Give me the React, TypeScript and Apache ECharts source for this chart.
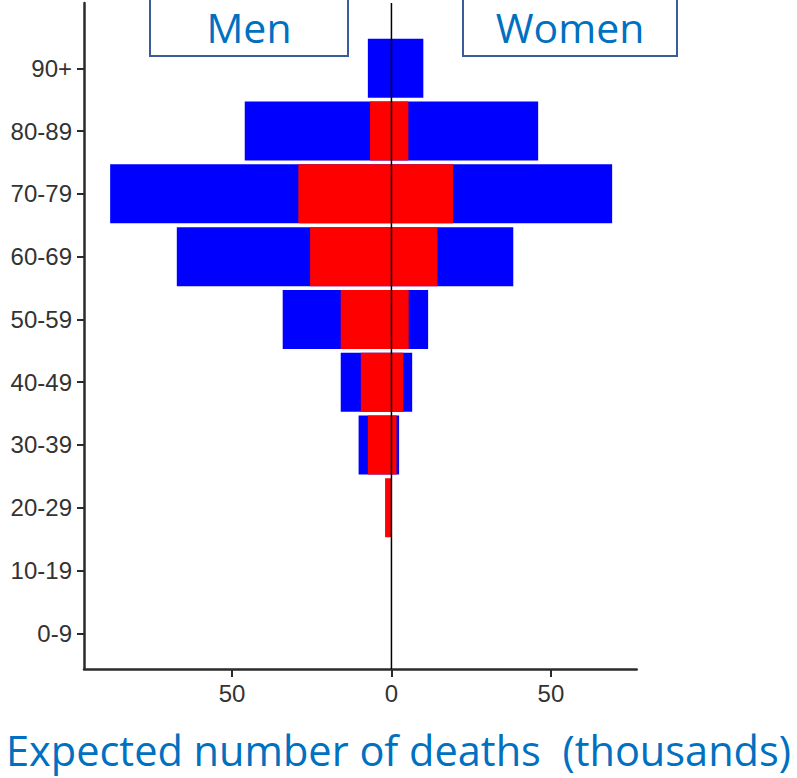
import React, { useEffect, useRef } from "react";
import * as echarts from "echarts";

const categories = ["0-9", "10-19", "20-29", "30-39", "40-49", "50-59", "60-69", "70-79", "80-89", "90+"];
// Expected deaths (thousands): blue = total bar, red = overlaid inner bar
const menBlue = [0, 0, 0, 10.3, 15.9, 34.1, 67.3, 88.2, 46.0, 7.4];
const menRed = [0, 0, 2.0, 7.4, 9.6, 15.9, 25.5, 29.2, 6.7, 0];
const womenBlue = [0, 0, 0, 2.4, 6.5, 11.5, 38.2, 69.2, 46.0, 10.0];
const womenRed = [0, 0, 0, 1.6, 3.7, 5.4, 14.4, 19.3, 5.3, 0];
const xTicks = [-50, 0, 50];
const xMin = -96.4;
const xMax = 76.9;

const leftLabel = "Men";
const rightLabel = "Women";
const xTitle = "Expected number of deaths  (thousands)";

const BLUE = "#0000FF";
const RED = "#FF0000";
const TITLE_BLUE = "#0070C0";
const BOX_BORDER = "#3B5C9A";
const AXIS = "#2b2b2b";
const LABEL = "#333333";

export default function App() {
  const ref = useRef<HTMLDivElement>(null);
  useEffect(() => {
    if (!ref.current) return;
    const chart = echarts.init(ref.current, undefined, { renderer: "svg" });
    const barCommon = {
      type: "bar" as const,
      xAxisIndex: 0,
      yAxisIndex: 0,
      barWidth: 59,
      barGap: "-100%",
    };
    chart.setOption({
      animation: false,
      backgroundColor: "#ffffff",
      grid: [
        { left: 84, right: 160.3, top: 36.9, bottom: 113.3, containLabel: false },
        { left: 84, right: 160.3, top: 3, bottom: 109, containLabel: false },
      ],
      xAxis: [
        { type: "value", gridIndex: 0, min: xMin, max: xMax, show: false },
        {
          type: "value",
          gridIndex: 1,
          min: xMin,
          max: xMax,
          axisLine: { show: true, onZero: false, lineStyle: { color: AXIS, width: 2.5 } },
          axisTick: { show: true, customValues: xTicks, length: 8, lineStyle: { color: AXIS, width: 2 } },
          axisLabel: {
            show: true,
            customValues: xTicks,
            formatter: (v: number) => String(Math.abs(v)),
            fontFamily: "Liberation Sans",
            fontSize: 24,
            color: LABEL,
            margin: 12,
          },
          splitLine: { show: false },
        },
      ],
      yAxis: [
        {
          type: "category",
          gridIndex: 0,
          data: categories,
          axisLine: { show: false, onZero: false },
          axisTick: { show: true, alignWithLabel: true, length: 7, lineStyle: { color: AXIS, width: 2 } },
          axisLabel: {
            fontFamily: "Liberation Sans",
            fontSize: 24,
            color: LABEL,
            margin: 12,
          },
          splitLine: { show: false },
        },
        {
          type: "value",
          gridIndex: 1,
          min: 0,
          max: 1,
          axisLine: { show: true, onZero: false, lineStyle: { color: AXIS, width: 2.5 } },
          axisTick: { show: false },
          axisLabel: { show: false },
          splitLine: { show: false },
        },
      ],
      series: [
        { ...barCommon, name: "Men total", data: menBlue.map((v) => -v), itemStyle: { color: BLUE } },
        { ...barCommon, name: "Women total", data: womenBlue, itemStyle: { color: BLUE } },
        { ...barCommon, name: "Men red", data: menRed.map((v) => -v), itemStyle: { color: RED } },
        { ...barCommon, name: "Women red", data: womenRed, itemStyle: { color: RED } },
        {
          type: "line",
          xAxisIndex: 1,
          yAxisIndex: 1,
          data: [[0, 0], [0, 1]],
          symbol: "none",
          lineStyle: { color: "#000000", width: 1.5 },
          z: 10,
          silent: true,
        },
      ],
      graphic: [
        {
          type: "rect",
          shape: { x: 150, y: -1, width: 198, height: 57 },
          style: { fill: "#ffffff", stroke: BOX_BORDER, lineWidth: 2 },
          z: 20,
        },
        {
          type: "text",
          x: 249,
          y: 27,
          style: {
            text: leftLabel,
            fill: TITLE_BLUE,
            font: "41px 'Open Sans'",
            align: "center",
            verticalAlign: "middle",
          },
          z: 21,
        },
        {
          type: "rect",
          shape: { x: 463, y: -1, width: 214, height: 57 },
          style: { fill: "#ffffff", stroke: BOX_BORDER, lineWidth: 2 },
          z: 20,
        },
        {
          type: "text",
          x: 570,
          y: 27,
          style: {
            text: rightLabel,
            fill: TITLE_BLUE,
            font: "41px 'Open Sans'",
            align: "center",
            verticalAlign: "middle",
          },
          z: 21,
        },
        {
          type: "text",
          x: 6,
          y: 750,
          style: {
            text: xTitle,
            fill: TITLE_BLUE,
            font: "41.5px 'Open Sans'",
            align: "left",
            verticalAlign: "middle",
          },
          z: 21,
        },
      ],
    });
    return () => chart.dispose();
  }, []);
  return (
    <div
      ref={ref}
      style={{ position: "absolute", left: 0, top: 0, width: 797, height: 778 }}
    />
  );
}
